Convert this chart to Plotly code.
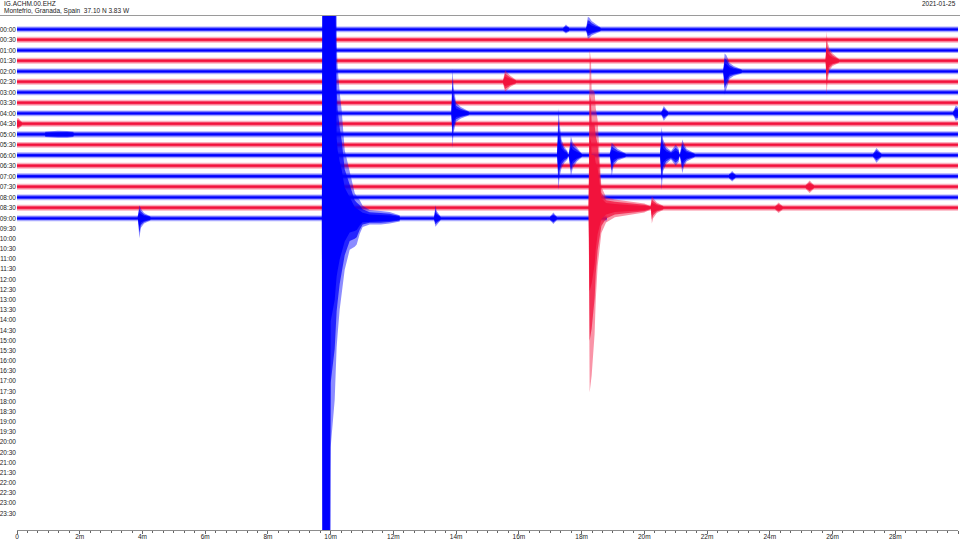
import plotly.graph_objects as go

# ---------------- data ----------------
station = "IG.ACHM.00.EHZ"
location = "Montefrio, Granada, Spain  37.10 N 3.83 W"
date_label = "2021-01-25"

row_labels = ["00:00", "00:30", "01:00", "01:30", "02:00", "02:30", "03:00", "03:30",
              "04:00", "04:30", "05:00", "05:30", "06:00", "06:30", "07:00", "07:30",
              "08:00", "08:30", "09:00", "09:30", "10:00", "10:30", "11:00", "11:30",
              "12:00", "12:30", "13:00", "13:30", "14:00", "14:30", "15:00", "15:30",
              "16:00", "16:30", "17:00", "17:30", "18:00", "18:30", "19:00", "19:30",
              "20:00", "20:30", "21:00", "21:30", "22:00", "22:30", "23:00", "23:30"]

x_tick_minutes = [0, 2, 4, 6, 8, 10, 12, 14, 16, 18, 20, 22, 24, 26, 28, 30]
x_tick_text = ["0", "2m", "4m", "6m", "8m", "10m", "12m", "14m", "16m", "18m",
               "20m", "22m", "24m", "26m", "28m", "30m"]

# recorded rows (00:00 .. 09:00): end minute of data and background noise half-amplitude (row units)
row_end_min = [30, 30, 30, 30, 30, 30, 30, 30, 30, 30, 30, 30, 30, 30, 30, 30, 30, 30, 18.8]
row_noise = [0.27, 0.28, 0.26, 0.28, 0.27, 0.28, 0.27, 0.28, 0.27, 0.28,
             0.30, 0.27, 0.28, 0.28, 0.28, 0.28, 0.27, 0.28, 0.27]

# events: row index, minute keyframes, upward and downward envelope (row units)
ev_row = [0, 0, 3, 4, 5, 8, 8, 8, 9, 10,
          12, 12, 12, 12, 12, 12, 12, 14, 15, 17,
          17, 17, 18, 18, 18, 18]
ev_t = [
    [17.42, 17.5, 17.6],
    [18.15, 18.2, 18.25, 18.32, 18.45, 18.6],
    [25.78, 25.81, 25.84, 25.9, 26.0, 26.2],
    [22.52, 22.56, 22.62, 22.72, 22.85, 23.1],
    [15.5, 15.56, 15.62, 15.72, 15.9],
    [13.85, 13.88, 13.92, 14.0, 14.15, 14.4],
    [20.55, 20.62, 20.75],
    [29.85, 29.93, 30.0],
    [0.0, 0.04, 0.15],
    [0.9, 1.3, 1.6, 1.8],
    [17.22, 17.26, 17.3, 17.36, 17.45, 17.55],
    [17.6, 17.66, 17.72, 17.85, 18.0],
    [18.9, 18.96, 19.02, 19.15, 19.4],
    [20.5, 20.55, 20.6, 20.7, 20.85],
    [20.85, 21.0, 21.1],
    [21.15, 21.21, 21.26, 21.35, 21.6],
    [27.3, 27.4, 27.55],
    [22.7, 22.8, 22.9],
    [25.15, 25.27, 25.4],
    [24.18, 24.28, 24.4],
    [18.225, 18.256, 18.30, 18.32, 18.37, 18.415, 18.45, 18.51, 18.63, 18.78, 19.06, 19.54, 20.0, 20.17],
    [20.2, 20.24, 20.28, 20.4, 20.6],
    [3.85, 3.9, 3.95, 4.05, 4.25],
    [13.3, 13.34, 13.38, 13.5],
    [17.0, 17.1, 17.2],
    [9.72, 9.745, 9.968, 10.0, 10.128, 10.19, 10.223, 10.287, 10.351, 10.447, 10.606,
     10.766, 10.83, 10.925, 11.02, 11.244, 11.6, 11.88, 12.2],
]
ev_up = [
    [0.2, 0.45, 0.2],
    [0.2, 1.2, 1.1, 0.8, 0.5, 0.2],
    [0.2, 2.8, 1.8, 1.2, 0.7, 0.2],
    [0.2, 1.7, 1.5, 0.8, 0.5, 0.2],
    [0.2, 1.1, 0.9, 0.6, 0.2],
    [0.2, 4.3, 2.5, 1.0, 0.6, 0.2],
    [0.2, 0.7, 0.2],
    [0.2, 0.75, 0.6],
    [0.5, 0.55, 0.2],
    [0.25, 0.34, 0.32, 0.25],
    [0.2, 4.5, 3.0, 1.5, 0.8, 0.4],
    [0.4, 1.8, 1.2, 0.7, 0.2],
    [0.2, 1.2, 1.0, 0.6, 0.2],
    [0.2, 2.7, 1.5, 0.8, 0.4],
    [0.4, 1.0, 0.6],
    [0.4, 1.5, 1.1, 0.6, 0.2],
    [0.2, 0.7, 0.2],
    [0.2, 0.5, 0.2],
    [0.2, 0.6, 0.2],
    [0.2, 0.5, 0.2],
    [0.2, 15.1, 14.0, 11.2, 11.2, 11.0, 9.5, 8.4, 2.0, 1.0, 0.8, 0.6, 0.4, 0.2],
    [0.2, 1.1, 0.9, 0.5, 0.2],
    [0.2, 1.25, 0.9, 0.5, 0.2],
    [0.2, 1.25, 0.7, 0.2],
    [0.2, 0.55, 0.2],
    [0.2, 60, 60, 60, 60, 17, 14.4, 12, 10.3, 6.5, 4.6, 2.4, 2.1, 1.74, 1.2, 0.8, 0.7, 0.6, 0.3],
]
ev_down = [
    [0.2, 0.4, 0.2],
    [0.2, 0.9, 0.8, 0.6, 0.4, 0.2],
    [0.2, 3.3, 2.0, 0.9, 0.5, 0.2],
    [0.2, 2.2, 1.7, 0.7, 0.45, 0.2],
    [0.2, 0.95, 0.8, 0.5, 0.2],
    [0.2, 3.3, 1.8, 0.8, 0.5, 0.2],
    [0.2, 0.7, 0.2],
    [0.2, 0.7, 0.6],
    [0.45, 0.5, 0.2],
    [0.25, 0.34, 0.32, 0.25],
    [0.2, 3.3, 2.0, 1.2, 0.7, 0.4],
    [0.4, 2.0, 1.2, 0.6, 0.2],
    [0.2, 2.0, 1.0, 0.5, 0.2],
    [0.2, 3.3, 1.5, 0.8, 0.4],
    [0.4, 1.0, 0.6],
    [0.4, 1.7, 1.1, 0.6, 0.2],
    [0.2, 0.7, 0.2],
    [0.2, 0.5, 0.2],
    [0.2, 0.6, 0.2],
    [0.2, 0.5, 0.2],
    [0.2, 17.6, 16.5, 16.0, 14.5, 12.0, 8.8, 5.6, 2.4, 1.4, 0.9, 0.7, 0.45, 0.2],
    [0.2, 1.5, 1.0, 0.5, 0.2],
    [0.2, 1.9, 0.9, 0.5, 0.2],
    [0.2, 0.8, 0.6, 0.2],
    [0.2, 0.55, 0.2],
    [0.2, 70, 70, 21.8, 17.3, 12.3, 11, 8.7, 7, 4.9, 3.0, 2.7, 2.5, 1.5, 0.83, 0.6, 0.6, 0.5, 0.3],
]

# ---------------- style ----------------
BLUE = "#0000ff"
RED = "#f2123c"
FONT = "Liberation Sans, Arial, sans-serif"
TXT = "#222222"

W, H = 960, 540
ML, MR, MT, MB = 17, 2, 16, 10
PW, PH = W - ML - MR, H - MT - MB


def row_color(r):
    return BLUE if r % 2 == 0 else RED


def rgba(c, a):
    c = c.lstrip("#")
    return "rgba(%d,%d,%d,%.2f)" % (int(c[0:2], 16), int(c[2:4], 16), int(c[4:6], 16), a)


def band(x, y, color):
    return go.Scatter(x=x + [x[0]], y=y + [y[0]], mode="lines", fill="toself",
                      fillcolor=color, line=dict(width=0), hoverinfo="skip",
                      showlegend=False)


fig = go.Figure()

# background noise bands: pale fringe + dense core
for r, (end, a) in enumerate(zip(row_end_min, row_noise)):
    col = row_color(r)
    for amp, alpha in ((a, 0.33), (a * 0.62, 0.55), (a * 0.32, 1.0)):
        fig.add_trace(band([0, end, end, 0], [r - amp, r - amp, r + amp, r + amp], rgba(col, alpha)))

# events: pale outer envelope + dense inner envelope
for r, ts, ups, dns in zip(ev_row, ev_t, ev_up, ev_down):
    col = row_color(r)
    xs = list(ts) + list(ts)[::-1]
    for k, alpha in ((1.0, 0.45), (0.72, 0.75), (0.45, 1.0)):
        ys = [r - u * k for u in ups] + [r + d * k for d in dns][::-1]
        fig.add_trace(band(xs, ys, rgba(col, alpha)))

# y label positions: recorded rows every row, remaining labels slightly compressed
label_pos = [i if i <= 18 else 18 + (i - 18) * 0.969 for i in range(len(row_labels))]

row_px = 10.5
y_top = -(29.3 - MT) / row_px
y_bot = y_top + PH / row_px

fig.update_layout(
    width=W, height=H,
    margin=dict(l=ML, r=MR, t=MT, b=MB, autoexpand=False),
    paper_bgcolor="white", plot_bgcolor="white",
    font=dict(family=FONT, size=7, color=TXT),
    showlegend=False,
    xaxis=dict(
        range=[0, 30], showgrid=False, zeroline=False, automargin=False,
        showline=True, linecolor="#8c8c8c", linewidth=1,
        ticks="outside", ticklen=3, tickcolor="#666666", tickwidth=1,
        ticklabelstandoff=-3,
        tickvals=x_tick_minutes, ticktext=x_tick_text,
        tickfont=dict(size=6.5, color=TXT, family=FONT),
        minor=dict(dtick=1 / 3, ticks="outside", ticklen=2, tickcolor="#666666", tickwidth=1),
    ),
    yaxis=dict(
        range=[y_bot, y_top], showgrid=False, zeroline=False, showline=False,
        automargin=False,
        ticks="", tickvals=label_pos, ticktext=row_labels,
        tickfont=dict(size=6.5, color=TXT, family=FONT),
    ),
)

# header line
fig.add_shape(type="line", xref="paper", yref="paper",
              x0=-ML / PW, x1=1 + MR / PW, y0=1 + 0.5 / PH, y1=1 + 0.5 / PH,
              line=dict(color="#9a9a9a", width=1))

fig.add_annotation(text=station, xref="paper", yref="paper", x=-(ML - 2) / PW, y=1 + 13 / PH,
                   xanchor="left", yanchor="middle", showarrow=False,
                   font=dict(size=6.5, color=TXT, family=FONT))
fig.add_annotation(text=location, xref="paper", yref="paper", x=-(ML - 2) / PW, y=1 + 5.5 / PH,
                   xanchor="left", yanchor="middle", showarrow=False,
                   font=dict(size=6.5, color=TXT, family=FONT))
fig.add_annotation(text=date_label, xref="paper", yref="paper", x=1, y=1 + 13 / PH,
                   xanchor="right", yanchor="middle", showarrow=False,
                   font=dict(size=6.5, color=TXT, family=FONT))

fig.write_html("out.html",
               config={"displayModeBar": False, "staticPlot": True},
               post_script="document.body.style.margin='0px';document.body.style.overflow='hidden';")
